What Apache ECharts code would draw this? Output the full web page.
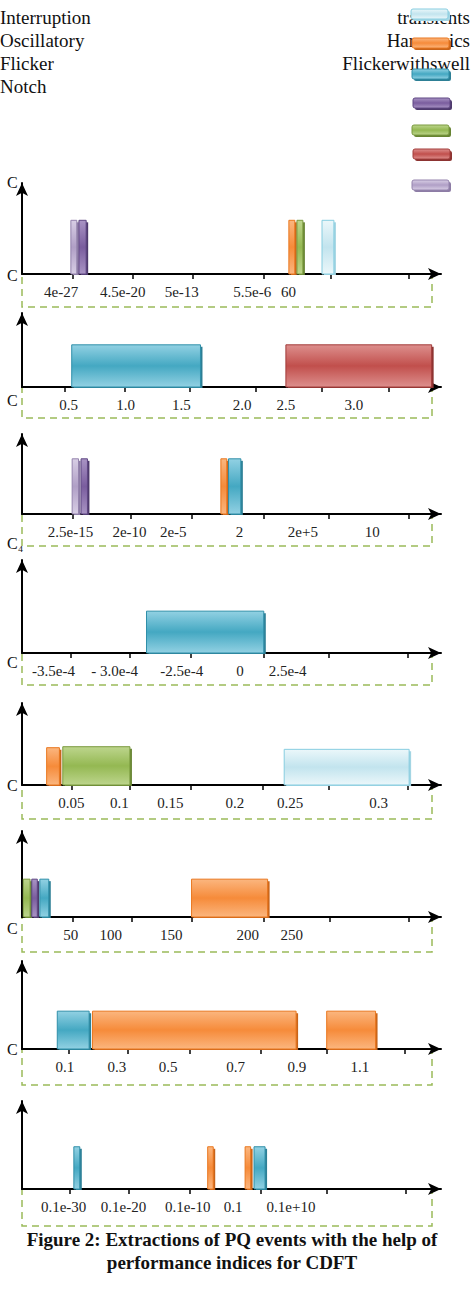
<!DOCTYPE html>
<html>
<head>
<meta charset="utf-8">
<script src="https://cdn.jsdelivr.net/npm/echarts@6/dist/echarts.min.js"></script>
<style>
  html, body { margin: 0; padding: 0; background: #fff; }
  #container { width: 471px; height: 1308px; }
</style>
</head>
<body>
<div id="container"></div>
<script>
// Event names shown in the legend
const leftLegendText = ['Interruption', 'Oscillatory', 'Flicker', 'Notch'];
const rightLegendText = ['transients', 'Harmonics', 'Flickerwithswell'];
const swatchOrder = ['transients', 'Harmonics', 'Flickerwithswell', 'Interruption', 'Oscillatory', 'Flicker', 'Notch'];

// Panel 1..8: tick labels, where they sit on the axis (0-100 scale), tick marks, bars [event, from, to, height]
const p1Labels = ['4e-27', '4.5e-20', '5e-13', '5.5e-6', '60'];
const p1LabelPos = [9.2, 23.7, 37.6, 54.2, 62.7];
const p1Ticks = [12.0, 26.1, 40.2, 56.9, 72.7, 91.1];
const p1Bars = [['Notch', 11.5, 12.9, 0.59], ['Interruption', 13.4, 15.1, 0.59],
  ['Harmonics', 62.8, 64.2, 0.59], ['Oscillatory', 64.7, 66.1, 0.59], ['transients', 70.6, 73.4, 0.59]];

const p2Labels = ['0.5', '1.0', '1.5', '2.0', '2.5', '3.0'];
const p2LabelPos = [11.0, 24.4, 37.5, 51.8, 62.1, 78.1];
const p2Ticks = [10.1, 24.2, 39.5, 55.1, 70.6, 86.4];
const p2Bars = [['Flickerwithswell', 11.7, 42.0, 0.57], ['Flicker', 62.1, 96.4, 0.57]];

const p3Labels = ['2.5e-15', '2e-10', '2e-5', '2', '2e+5', '10'];
const p3LabelPos = [11.4, 25.3, 35.6, 51.2, 66.1, 82.4];
const p3Ticks = [11.9, 25.6, 39.9, 56.8, 72.3, 90.9];
const p3Bars = [['Notch', 11.8, 13.3, 0.69], ['Interruption', 13.9, 15.4, 0.69],
  ['Harmonics', 46.8, 48.2, 0.69], ['Flickerwithswell', 48.6, 51.5, 0.69]];

const p4Labels = ['-3.5e-4', '- 3.0e-4', '-2.5e-4', '0', '2.5e-4'];
const p4LabelPos = [7.4, 21.8, 37.6, 51.3, 62.5];
const p4Ticks = [11.5, 25.4, 39.8, 56.8, 72.2, 90.7];
const p4Bars = [['Flickerwithswell', 29.3, 56.9, 0.45]];

const p5Labels = ['0.05', '0.1', '0.15', '0.2', '0.25', '0.3'];
const p5LabelPos = [11.6, 22.9, 34.9, 50.1, 63.1, 83.9];
const p5Ticks = [11.7, 25.4, 39.8, 56.6, 72.2, 90.7];
const p5Bars = [['Harmonics', 5.8, 8.8, 0.455], ['Oscillatory', 9.6, 25.4, 0.467], ['transients', 61.7, 91.1, 0.435]];

const p6Labels = ['50', '100', '150', '200', '250'];
const p6LabelPos = [11.5, 20.9, 35.1, 53.1, 63.5];
const p6Ticks = [11.9, 25.9, 39.9, 56.8, 72.5, 90.9];
const p6Bars = [['Oscillatory', 0.3, 1.9, 0.44], ['Interruption', 2.3, 3.6, 0.44],
  ['Flickerwithswell', 4.2, 6.3, 0.44], ['Harmonics', 39.9, 57.8, 0.44]];

const p7Labels = ['0.1', '0.3', '0.5', '0.7', '0.9', '1.1'];
const p7LabelPos = [10.1, 22.3, 34.4, 50.3, 64.7, 79.5];
const p7Ticks = [10.9, 25.0, 39.4, 56.2, 71.7, 90.1];
const p7Bars = [['Flickerwithswell', 8.3, 15.8, 0.43], ['Harmonics', 16.6, 64.5, 0.43], ['Harmonics', 71.7, 83.2, 0.43]];

const p8Labels = ['0.1e-30', '0.1e-20', '0.1e-10', '0.1', '0.1e+10'];
const p8LabelPos = [9.8, 23.9, 39.0, 49.7, 63.3];
const p8Ticks = [11.3, 25.1, 39.5, 56.2, 71.7, 90.2];
const p8Bars = [['Flickerwithswell', 12.2, 13.6, 0.48], ['Harmonics', 43.7, 45.0, 0.48],
  ['Harmonics', 52.5, 53.8, 0.48], ['Flickerwithswell', 54.6, 57.2, 0.48]];

const panels = [
  { labels: p1Labels, labelPos: p1LabelPos, ticks: p1Ticks, bars: p1Bars },
  { labels: p2Labels, labelPos: p2LabelPos, ticks: p2Ticks, bars: p2Bars },
  { labels: p3Labels, labelPos: p3LabelPos, ticks: p3Ticks, bars: p3Bars },
  { labels: p4Labels, labelPos: p4LabelPos, ticks: p4Ticks, bars: p4Bars },
  { labels: p5Labels, labelPos: p5LabelPos, ticks: p5Ticks, bars: p5Bars },
  { labels: p6Labels, labelPos: p6LabelPos, ticks: p6Ticks, bars: p6Bars },
  { labels: p7Labels, labelPos: p7LabelPos, ticks: p7Ticks, bars: p7Bars },
  { labels: p8Labels, labelPos: p8LabelPos, ticks: p8Ticks, bars: p8Bars }
];

// layout (pixels)
const gridTop = [183, 313, 434, 560, 703, 831, 961, 1101];
const axisY = [274, 387, 514, 653, 785, 917, 1049, 1189];
const boxBottom = [307, 418, 546, 685, 819, 952, 1085, 1226];
const GRID_LEFT = 22;
const GRID_WIDTH = 419;
const SERIF = '"Liberation Serif", "Times New Roman", serif';

// office-like colours
const palette = {
  transients: { base: '#c2e4ee', light: '#ebf7fa', edge: '#86cde0', shade: '#a3d5e3' },
  Harmonics: { base: '#f68b3a', light: '#fbb67f', edge: '#e9771f', shade: '#c8641a' },
  Flickerwithswell: { base: '#44a8c2', light: '#92d1e3', edge: '#2f8fa9', shade: '#2d7f95' },
  Interruption: { base: '#7a5d9e', light: '#a994c4', edge: '#5f4783', shade: '#4e3a6c' },
  Oscillatory: { base: '#94b852', light: '#bdd58d', edge: '#7a9a3e', shade: '#678433' },
  Flicker: { base: '#c14f4c', light: '#dd8f8d', edge: '#a23c3a', shade: '#8c3331' },
  Notch: { base: '#b09fc6', light: '#d8cee5', edge: '#9483ad', shade: '#8d7ca5' }
};

function fillFor(c) {
  return new echarts.graphic.LinearGradient(0, 0, 0, 1, [
    { offset: 0, color: c.light },
    { offset: 0.5, color: c.base },
    { offset: 1, color: c.light }
  ]);
}

function makeRender(name) {
  const c = palette[name];
  return function (params, api) {
    const p0 = api.coord([api.value(0), 0]);
    const p1 = api.coord([api.value(1), api.value(2)]);
    const w = p1[0] - p0[0];
    const h = p0[1] - p1[1];
    return {
      type: 'group',
      children: [
        { type: 'rect', shape: { x: p0[0] + 2, y: p1[1] + 2, width: w, height: h - 1 }, style: { fill: c.shade } },
        { type: 'rect', shape: { x: p0[0], y: p1[1], width: w, height: h }, style: { fill: fillFor(c), stroke: c.edge, lineWidth: 1 } }
      ]
    };
  };
}

const grids = [], xAxes = [], yAxes = [], series = [], graphics = [];
const axisLineStyle = { color: '#000', width: 2 };

panels.forEach((p, i) => {
  grids.push({ left: GRID_LEFT, width: GRID_WIDTH, top: gridTop[i], height: axisY[i] - gridTop[i] });
  xAxes.push({
    type: 'value', gridIndex: i, min: 0, max: 98.6,
    splitLine: { show: false },
    axisLine: { show: true, onZero: false, symbol: ['none', 'arrow'], symbolSize: [9, 13], lineStyle: axisLineStyle },
    axisTick: { show: true, customValues: p.ticks, length: 5, lineStyle: { color: '#000', width: 1.5 } },
    axisLabel: {
      customValues: p.labelPos, margin: 10, fontFamily: SERIF, fontSize: 15, color: '#222',
      formatter: v => {
        let k = 0;
        p.labelPos.forEach((q, j) => { if (Math.abs(q - v) < Math.abs(p.labelPos[k] - v)) k = j; });
        return p.labels[k];
      }
    }
  });
  yAxes.push({
    type: 'value', gridIndex: i, min: 0, max: 1,
    splitLine: { show: false },
    axisLine: { show: true, onZero: false, symbol: ['none', 'arrow'], symbolSize: [9, 13], lineStyle: axisLineStyle },
    axisTick: { show: false },
    axisLabel: { show: false }
  });
  p.bars.forEach(b => {
    series.push({
      type: 'custom', name: b[0], xAxisIndex: i, yAxisIndex: i,
      renderItem: makeRender(b[0]),
      encode: { x: [0, 1], y: 2 },
      data: [[b[1], b[2], b[3]]],
      silent: true
    });
  });
  // dashed box around the tick labels
  graphics.push({
    type: 'rect', z: -1,
    shape: { x: 22, y: axisY[i], width: 410, height: boxBottom[i] - axisY[i] },
    style: { fill: 'none', stroke: '#9bbb59', lineWidth: 1.5, lineDash: [7, 5] }
  });
});

// stray "C" marks
const cMarks = [[7, 182, 'C'], [7, 275, 'C'], [7, 400, 'C'], [7, 543, 'C₄'], [7, 662, 'C'], [7, 785, 'C'], [7, 928, 'C'], [7, 1049, 'C']];
cMarks.forEach(m => graphics.push({
  type: 'text', x: m[0], y: m[1], z: 5,
  style: { text: m[2], font: '16px ' + SERIF, fill: '#111', verticalAlign: 'middle' }
}));

// legend text
leftLegendText.forEach((t, k) => graphics.push({
  type: 'text', x: 0, y: 17 + k * 23,
  style: { text: t, font: '19px ' + SERIF, fill: '#111', verticalAlign: 'middle' }
}));
rightLegendText.forEach((t, k) => graphics.push({
  type: 'text', x: 470, y: 17 + k * 23,
  style: { text: t, font: '19px ' + SERIF, fill: '#111', align: 'right', verticalAlign: 'middle' }
}));
// legend swatches
const swatchXY = [[411, 9], [412, 38], [412, 69], [413, 98], [412, 125], [413, 149], [412, 180]];
swatchOrder.forEach((name, k) => {
  const c = palette[name];
  graphics.push({ type: 'rect', z: 6, shape: { x: swatchXY[k][0] + 2, y: swatchXY[k][1] + 2, width: 37, height: 10, r: 2 }, style: { fill: c.shade } });
  graphics.push({ type: 'rect', z: 7, shape: { x: swatchXY[k][0], y: swatchXY[k][1], width: 37, height: 10, r: 2 }, style: { fill: fillFor(c), stroke: c.edge, lineWidth: 1 } });
});

// caption
graphics.push({
  type: 'text', x: 232, y: 1239,
  style: { text: 'Figure 2: Extractions of PQ events with the help of', font: 'bold 19px ' + SERIF, fill: '#111', align: 'center', verticalAlign: 'middle' }
});
graphics.push({
  type: 'text', x: 232, y: 1262,
  style: { text: 'performance indices for CDFT', font: 'bold 19px ' + SERIF, fill: '#111', align: 'center', verticalAlign: 'middle' }
});

const chart = echarts.init(document.getElementById('container'), null, { renderer: 'svg' });
chart.setOption({
  animation: false,
  backgroundColor: '#fff',
  grid: grids,
  xAxis: xAxes,
  yAxis: yAxes,
  series: series,
  graphic: graphics
});
</script>
</body>
</html>
